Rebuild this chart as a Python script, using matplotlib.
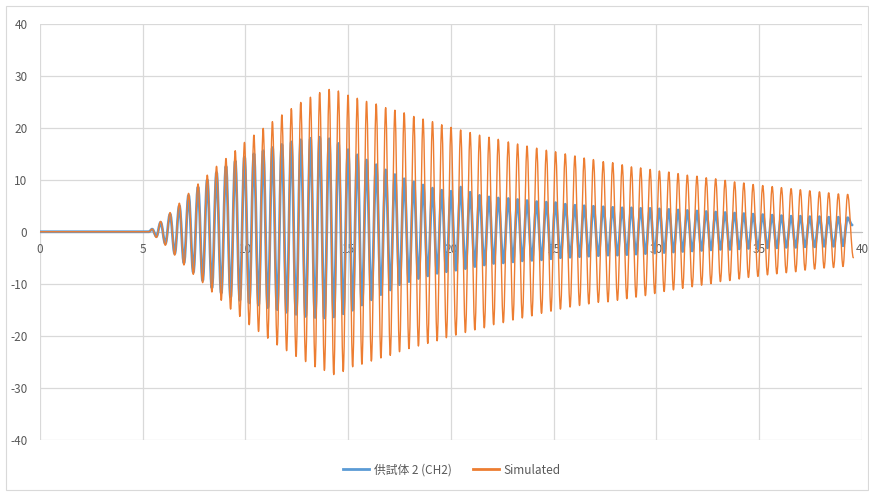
import matplotlib
matplotlib.use("Agg")
import matplotlib.pyplot as plt
from matplotlib.patches import Rectangle, PathPatch
from matplotlib.path import Path
from matplotlib.lines import Line2D
import numpy as np

# peak times of each oscillation cycle (s)
peak_t = [5.46, 5.87, 6.33, 6.78, 7.23, 7.69, 8.14, 8.59, 9.05, 9.50,
          9.95, 10.41, 10.86, 11.31, 11.77, 12.23, 12.69, 13.16, 13.61, 14.07,
          14.52, 14.99, 15.44, 15.89, 16.36, 16.82, 17.27, 17.72, 18.19, 18.64,
          19.10, 19.55, 20.00, 20.47, 20.93, 21.39, 21.85, 22.30, 22.79, 23.24,
          23.70, 24.17, 24.64, 25.09, 25.56, 26.03, 26.48, 26.93, 27.41, 27.87,
          28.33, 28.78, 29.23, 29.69, 30.14, 30.60, 31.05, 31.50, 31.97, 32.42,
          32.88, 33.34, 33.80, 34.25, 34.70, 35.17, 35.63, 36.08, 36.55, 37.00,
          37.46, 37.93, 38.38, 38.85, 39.30]

# Simulated: positive peaks and the trough after each one
sim_hi = [0.5, 2.0, 3.7, 5.5, 7.4, 9.2, 10.9, 12.6, 14.1, 15.6,
          17.2, 18.6, 19.9, 21.2, 22.5, 23.7, 24.9, 25.9, 26.8, 27.4,
          27.1, 26.3, 25.7, 25.1, 24.6, 23.9, 23.4, 22.9, 22.2, 21.7,
          21.2, 20.6, 20.1, 19.6, 19.1, 18.6, 18.2, 17.8, 17.3, 16.9,
          16.5, 16.1, 15.7, 15.4, 15.0, 14.6, 14.2, 13.9, 13.5, 13.3,
          12.9, 12.5, 12.3, 12.0, 11.7, 11.5, 11.2, 10.9, 10.7, 10.4,
          10.2, 9.9, 9.6, 9.4, 9.1, 8.9, 8.7, 8.5, 8.3, 8.1,
          7.9, 7.7, 7.5, 7.3, 7.2]
sim_lo = [-1.1, -2.6, -4.5, -6.4, -8.2, -9.8, -11.6, -13.2, -14.9, -16.3,
          -17.9, -19.2, -20.5, -21.8, -22.9, -24.0, -25.0, -26.0, -26.7, -27.5,
          -26.9, -26.0, -25.5, -24.9, -24.3, -23.8, -23.1, -22.5, -22.0, -21.5,
          -21.0, -20.4, -19.9, -19.4, -18.9, -18.5, -17.9, -17.5, -17.0, -16.6,
          -16.2, -15.7, -15.3, -14.9, -14.5, -14.2, -13.9, -13.6, -13.5, -13.2,
          -12.9, -12.6, -12.3, -11.9, -11.5, -11.2, -10.9, -10.6, -10.3, -10.0,
          -9.6, -9.4, -9.1, -8.8, -8.6, -8.3, -8.1, -7.9, -7.7, -7.4,
          -7.2, -7.0, -6.9, -6.7]
sim_end = (39.58, -5.0)

# 供試体 2 (CH2): measured response
ch2_hi = [0.5, 1.8, 3.4, 5.0, 7.0, 8.6, 10.0, 11.4, 12.6, 13.6,
          14.4, 15.0, 15.6, 16.2, 16.8, 17.3, 17.7, 18.0, 18.2, 17.9,
          17.0, 15.8, 14.8, 13.8, 12.9, 11.9, 11.0, 10.2, 9.6, 9.0,
          8.4, 8.0, 7.8, 8.6, 7.6, 7.0, 6.7, 6.5, 6.4, 6.2,
          6.0, 5.8, 5.7, 5.6, 5.3, 5.1, 5.0, 4.9, 4.8, 4.7,
          4.6, 4.6, 4.5, 4.5, 4.4, 4.3, 4.2, 4.1, 4.0, 3.9,
          3.8, 3.7, 3.6, 3.5, 3.4, 3.3, 3.2, 3.1, 3.0, 3.0,
          2.9, 2.9, 2.8, 2.8, 2.7]
ch2_lo = [-0.9, -2.3, -4.2, -6.0, -7.8, -9.4, -10.8, -11.8, -12.6, -13.2,
          -13.7, -14.1, -14.6, -15.0, -15.5, -15.9, -16.3, -16.5, -16.6, -16.4,
          -15.8, -15.1, -14.1, -13.1, -12.1, -11.2, -10.2, -9.6, -9.0, -8.5,
          -8.0, -7.7, -7.4, -7.1, -6.7, -6.4, -6.1, -6.0, -5.8, -5.6,
          -5.5, -5.4, -5.2, -5.0, -4.9, -4.8, -4.7, -4.6, -4.5, -4.5,
          -4.4, -4.3, -4.2, -4.1, -4.0, -3.9, -3.8, -3.7, -3.6, -3.5,
          -3.4, -3.4, -3.3, -3.2, -3.2, -3.1, -3.1, -3.0, -3.0, -2.9,
          -2.9, -2.8, -2.8, -2.7]
ch2_end = (39.52, 1.3)

quiet_t = [0.0, 5.3]   # flat part before the shaking starts

labels = ["供試体 2 (CH2)", "Simulated"]
BLUE = "#5B9BD5"
ORANGE = "#ED7D31"
GRID = "#D9D9D9"
TXT = "#595959"


def trace(hi, lo, end):
    """Join quiet part, peaks and troughs into one time series."""
    pk = np.asarray(peak_t)
    tr_t = (pk[:-1] + pk[1:]) / 2
    t = list(quiet_t)
    y = [0.0, 0.0]
    for i in range(len(pk)):
        t.append(pk[i]); y.append(hi[i])
        if i < len(tr_t):
            t.append(tr_t[i]); y.append(lo[i])
    t.append(end[0]); y.append(end[1])
    return np.array(t), np.array(y)


def smooth_path(t, y, k=0.36):
    """Smoothed line (like Excel's): cubic segments with flat tangents at each point."""
    verts = [(t[0], y[0])]
    codes = [Path.MOVETO]
    for i in range(1, len(t)):
        dt = t[i] - t[i - 1]
        verts += [(t[i - 1] + k * dt, y[i - 1]), (t[i] - k * dt, y[i]), (t[i], y[i])]
        codes += [Path.CURVE4] * 3
    return Path(verts, codes)


plt.rcParams["font.family"] = ["Noto Sans CJK JP", "DejaVu Sans"]
plt.rcParams["axes.unicode_minus"] = False

fig = plt.figure(figsize=(8.7, 4.94), dpi=100)
fig.patches.append(Rectangle((6 / 870, 4 / 494), 862 / 870, 484 / 494,
                             transform=fig.transFigure, fill=False,
                             edgecolor=GRID, linewidth=0.8))
ax = fig.add_axes([40 / 870, 1 - 439.5 / 494, 822 / 870, 415.5 / 494])

for (hi, lo, end), color, lw, z in [((ch2_hi, ch2_lo, ch2_end), BLUE, 2.0, 3),
                                    ((sim_hi, sim_lo, sim_end), ORANGE, 1.0, 4)]:
    t, y = trace(hi, lo, end)
    ax.add_patch(PathPatch(smooth_path(t, y), fill=False, edgecolor=color,
                           lw=lw, zorder=z, capstyle="round", joinstyle="round"))

ax.set_xlim(0, 40)
ax.set_ylim(-40, 40)
ax.set_xticks(range(0, 41, 5))
ax.set_yticks(range(-40, 41, 10))
ax.grid(True, color=GRID, lw=0.9)
ax.set_axisbelow(True)
for s in ["top", "right", "left"]:
    ax.spines[s].set_visible(False)
ax.spines["bottom"].set_position(("data", 0))
ax.spines["bottom"].set_color("#BFBFBF")
ax.spines["bottom"].set_zorder(2)
ax.tick_params(axis="both", length=0, labelsize=8.5, labelcolor=TXT)
ax.tick_params(axis="x", pad=8)
ax.tick_params(axis="y", pad=9)

handles = [Line2D([], [], color=BLUE, lw=2), Line2D([], [], color=ORANGE, lw=2)]
fig.legend(handles, labels, loc="center", bbox_to_anchor=(452 / 870, 1 - 470 / 494),
           ncol=2, frameon=False, fontsize=8.5, labelcolor=TXT,
           handlelength=2.2, handletextpad=0.4, columnspacing=1.8)

fig.savefig("out.png", dpi=100, facecolor="white")
